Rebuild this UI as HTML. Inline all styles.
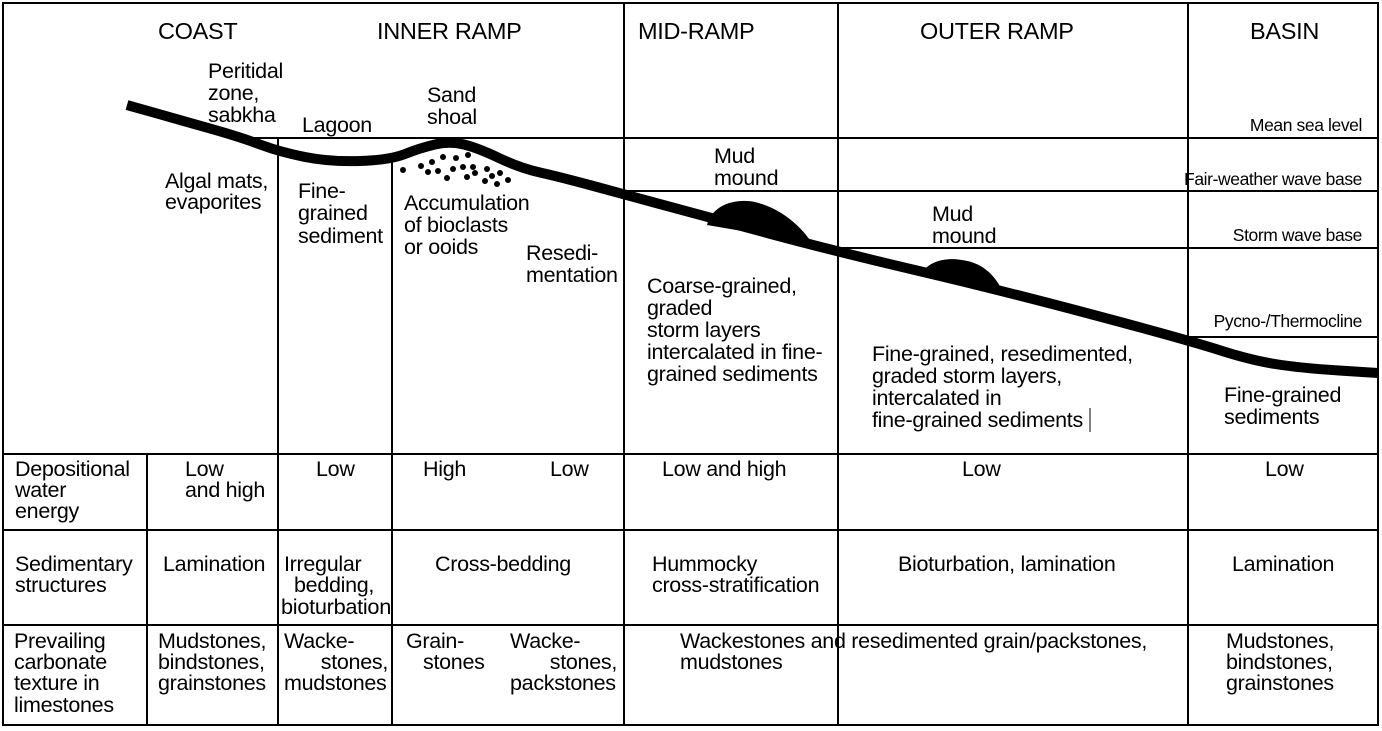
<!DOCTYPE html>
<html><head><meta charset="utf-8"><style>
html,body{margin:0;padding:0;background:#fff}
svg{display:block}
text{font-family:"Liberation Sans",Arial,sans-serif;fill:#000}
.t{font-size:21.5px;letter-spacing:-0.3px}
.h{font-size:23.5px;letter-spacing:-0.3px}
.s{font-size:17.5px;letter-spacing:-0.4px}
</style></head><body>
<svg width="1382" height="731" viewBox="0 0 1382 731">
<script>
// Seafloor profile points
const profileX = [127,180,240,280,330,390,420,450,478,520,560,623,700,838,1000,1188,1250,1300,1378];
const profileY = [105,120,137,152,162,160,148,141,148,168,177,194,215,252,290,340,360,368,373];
</script>
<g stroke="#000" stroke-width="2" fill="none">
<rect x="3" y="3" width="1375" height="722"/>
<line x1="278" y1="137" x2="278" y2="725"/>
<line x1="392" y1="160" x2="392" y2="725"/>
<line x1="624" y1="3" x2="624" y2="725"/>
<line x1="838" y1="3" x2="838" y2="725"/>
<line x1="1188" y1="3" x2="1188" y2="725"/>
<line x1="147" y1="454" x2="147" y2="725"/>
<line x1="3" y1="454" x2="1378" y2="454"/>
<line x1="3" y1="530" x2="1378" y2="530"/>
<line x1="3" y1="625" x2="1378" y2="625"/>
<line x1="242" y1="138" x2="1378" y2="138"/>
<line x1="624" y1="191" x2="1378" y2="191"/>
<line x1="838" y1="248" x2="1378" y2="248"/>
<line x1="1188" y1="337" x2="1378" y2="337"/>
</g>
<path id="profile" fill="none" stroke="#000" stroke-width="10" stroke-linejoin="round"/>
<path d="M707 225 C712 205 735 198 755 202 C780 208 800 225 812 243 Z" fill="#000"/>
<path d="M922 273 C928 262 945 257 962 260 C985 263 996 278 1002 290 Z" fill="#000"/>
<g fill="#000">
<circle cx="403" cy="170" r="3"/><circle cx="421" cy="166" r="3"/><circle cx="432" cy="162" r="3"/><circle cx="443" cy="157" r="3"/><circle cx="456" cy="158" r="3"/><circle cx="468" cy="155" r="3"/><circle cx="428" cy="172" r="3"/><circle cx="438" cy="171" r="3"/><circle cx="453" cy="169" r="3"/><circle cx="463" cy="167" r="3"/><circle cx="473" cy="167" r="3"/><circle cx="447" cy="178" r="3"/><circle cx="467" cy="177" r="3"/><circle cx="475" cy="173" r="3"/><circle cx="487" cy="169" r="3"/><circle cx="492" cy="176" r="3"/><circle cx="500" cy="173" r="3"/><circle cx="485" cy="181" r="3"/><circle cx="497" cy="184" r="3"/><circle cx="508" cy="180" r="3"/>
</g>
<g>
<text class="h" x="158" y="39">COAST</text>
<text class="h" x="377" y="39">INNER RAMP</text>
<text class="h" x="638" y="39">MID-RAMP</text>
<text class="h" x="920" y="39">OUTER RAMP</text>
<text class="h" x="1250" y="39">BASIN</text>
</g>
<g>
<text class="t" x="208" y="78">Peritidal</text><text class="t" x="208" y="100">zone,</text><text class="t" x="208" y="122">sabkha</text>
<text class="t" x="302" y="132">Lagoon</text>
<text class="t" x="427" y="102">Sand</text><text class="t" x="427" y="124">shoal</text>
<text class="t" x="165" y="188">Algal mats,</text><text class="t" x="165" y="209">evaporites</text>
<text class="t" x="298" y="198">Fine-</text><text class="t" x="298" y="220">grained</text><text class="t" x="298" y="243">sediment</text>
<text class="t" x="404" y="210">Accumulation</text><text class="t" x="404" y="232">of bioclasts</text><text class="t" x="404" y="254">or ooids</text>
<text class="t" x="526" y="260">Resedi-</text><text class="t" x="526" y="282">mentation</text>
<text class="t" x="714" y="163">Mud</text><text class="t" x="714" y="185">mound</text>
<text class="t" x="932" y="221">Mud</text><text class="t" x="932" y="243">mound</text>
<text class="s" x="1362" y="131" text-anchor="end">Mean sea level</text>
<text class="s" x="1362" y="185" text-anchor="end">Fair-weather wave base</text>
<text class="s" x="1362" y="241" text-anchor="end">Storm wave base</text>
<text class="s" x="1362" y="327" text-anchor="end">Pycno-/Thermocline</text>
<text class="t" x="647" y="293">Coarse-grained,</text><text class="t" x="647" y="315">graded</text><text class="t" x="647" y="337">storm layers</text><text class="t" x="647" y="359">intercalated in fine-</text><text class="t" x="647" y="381">grained sediments</text>
<text class="t" x="872" y="361">Fine-grained, resedimented,</text><text class="t" x="872" y="383">graded storm layers,</text><text class="t" x="872" y="405">intercalated in</text><text class="t" x="872" y="427">fine-grained sediments</text>
<line x1="1090" y1="408" x2="1090" y2="432" stroke="#000" stroke-width="1"/>
<text class="t" x="1224" y="402">Fine-grained</text><text class="t" x="1224" y="424">sediments</text>
</g>
<g>
<text class="t" x="15" y="476">Depositional</text><text class="t" x="15" y="497">water</text><text class="t" x="15" y="518">energy</text>
<text class="t" x="185" y="476">Low</text><text class="t" x="185" y="497">and high</text>
<text class="t" x="316" y="476">Low</text>
<text class="t" x="423" y="476">High</text><text class="t" x="550" y="476">Low</text>
<text class="t" x="662" y="476">Low and high</text>
<text class="t" x="962" y="476">Low</text>
<text class="t" x="1265" y="476">Low</text>
</g>
<g>
<text class="t" x="15" y="571">Sedimentary</text><text class="t" x="15" y="592">structures</text>
<text class="t" x="163" y="571">Lamination</text>
<text class="t" x="284" y="571">Irregular</text><text class="t" x="294" y="592">bedding,</text><text class="t" x="281" y="614" textLength="110" lengthAdjust="spacingAndGlyphs">bioturbation</text>
<text class="t" x="435" y="571">Cross-bedding</text>
<text class="t" x="652" y="571">Hummocky</text><text class="t" x="652" y="592">cross-stratification</text>
<text class="t" x="898" y="571">Bioturbation, lamination</text>
<text class="t" x="1232" y="571">Lamination</text>
</g>
<g>
<text class="t" x="14" y="648">Prevailing</text><text class="t" x="14" y="669">carbonate</text><text class="t" x="14" y="690">texture in</text><text class="t" x="14" y="712">limestones</text>
<text class="t" x="158" y="648">Mudstones,</text><text class="t" x="158" y="669">bindstones,</text><text class="t" x="158" y="690">grainstones</text>
<text class="t" x="284" y="648">Wacke-</text><text class="t" x="388" y="669" text-anchor="end">stones,</text><text class="t" x="284" y="690">mudstones</text>
<text class="t" x="406" y="648">Grain-</text><text class="t" x="423" y="669">stones</text>
<text class="t" x="510" y="648">Wacke-</text><text class="t" x="617" y="669" text-anchor="end">stones,</text><text class="t" x="510" y="690">packstones</text>
<text class="t" x="680" y="648">Wackestones and resedimented grain/packstones,</text><text class="t" x="680" y="669">mudstones</text>
<text class="t" x="1226" y="648">Mudstones,</text><text class="t" x="1226" y="669">bindstones,</text><text class="t" x="1226" y="690">grainstones</text>
</g>
<script>
(function(){
  let d = 'M' + profileX[0] + ' ' + profileY[0];
  for (let i = 1; i < profileX.length; i++) {
    const mx = (profileX[i-1] + profileX[i]) / 2, my = (profileY[i-1] + profileY[i]) / 2;
    d += ' Q' + profileX[i-1] + ' ' + profileY[i-1] + ' ' + mx + ' ' + my;
  }
  d += ' L' + profileX[profileX.length-1] + ' ' + profileY[profileY.length-1];
  document.getElementById('profile').setAttribute('d', d);
})();
</script>
</svg>
</body></html>
